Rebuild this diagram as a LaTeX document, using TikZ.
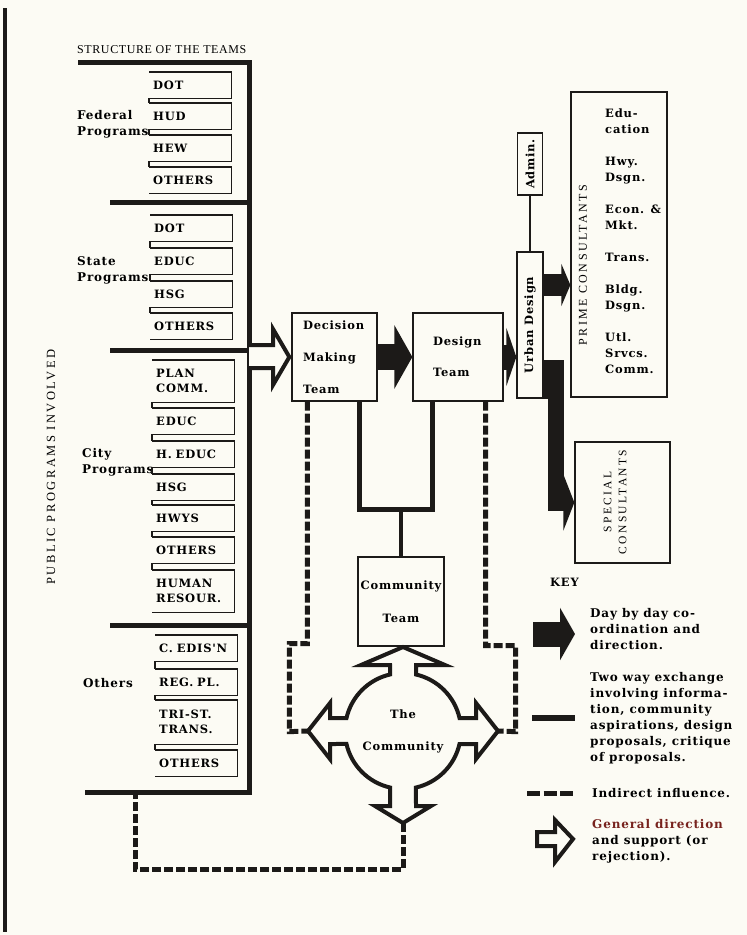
\documentclass[tikz,border=0pt]{standalone}
\usepackage{fontspec}
\usepackage{graphicx}
\usepackage{xcolor}
\setmainfont{Liberation Serif}
\newfontfamily\typfont{DejaVu Serif}[LetterSpace=7]
\newfontfamily\capfont{Liberation Serif}[LetterSpace=20]
\newfontfamily\hdfont{Liberation Serif}[LetterSpace=5]
\usepackage{tikz}
\usetikzlibrary{calc, arrows.meta, positioning}

\definecolor{paper}{RGB}{252,251,244}
\definecolor{ink}{RGB}{28,26,24}
\definecolor{genred}{RGB}{120,35,30}

\tikzset{
    prog/.style={anchor=west, minimum width=81pt, minimum height=26pt, inner xsep=4pt, inner ysep=0pt,
        text width=74pt, align=left, font=\typfont\bfseries\fontsize{11.5}{15}\selectfont},
    progline/.style={line width=1.4pt, ink},
    bar/.style={line width=5pt, ink},
    box/.style={draw=ink, line width=1.3pt, inner sep=0pt, font=\typfont\bfseries\fontsize{11.5}{14}\selectfont},
    team/.style={draw=ink, line width=1.3pt, inner ysep=0pt, font=\typfont\bfseries\fontsize{11.5}{32}\selectfont},
    lbl/.style={anchor=west, align=left, inner sep=0pt, font=\typfont\bfseries\fontsize{12}{16}\selectfont},
    twoway/.style={line width=4.5pt, ink},
    indirect/.style={line width=5pt, ink, dash pattern=on 9pt off 3pt},
    fat/.style={ink},
    hollow/.style={line width=4pt, ink, line join=miter, fill=paper},
}

\begin{document}
\begin{tikzpicture}[x=1pt, y=-1pt]
    % Nền
    \fill[paper] (0,0) rectangle (747,935);
    \useasboundingbox (0,0) rectangle (747,935);
    \draw[line width=4pt, ink] (5,8) -- (5,932);

    % Tiêu đề
    \node[anchor=west, inner sep=0pt, font=\hdfont\fontsize{12}{14}\selectfont] (title) at (77,50) {STRUCTURE OF THE TEAMS};
    \node[rotate=90, inner sep=0pt, font=\capfont\fontsize{12.5}{14}\selectfont] (publbl) at (51,467) {PUBLIC PROGRAMS INVOLVED};

    % Thanh dọc chính
    \draw[bar] (78,62) -| (249,792) -- (85,792);
    \foreach \y in {202,350,625}
        \draw[bar] (110,\y) -- (249,\y);

    % Chương trình liên bang
    \node[lbl] (fedlbl) at (77,124) {Federal\\Programs};
    \foreach \n/\t/\y in {fdot/DOT/85, fhud/HUD/116, fhew/HEW/148, foth/OTHERS/180} {
        \node[prog] (\n) at (149,\y) {\t};
        \draw[progline] (\n.north west) -- (\n.north east) -- (\n.south east) -- (\n.south west);
    }
    \foreach \a/\b in {fdot/fhud, fhud/fhew, fhew/foth}
        \draw[progline] (\a.south west) -- (\b.north west);

    % Chương trình tiểu bang
    \node[lbl] (statelbl) at (77,270) {State\\Programs};
    \foreach \n/\t/\y in {sdot/DOT/228, sedu/EDUC/261, shsg/HSG/294, soth/OTHERS/326} {
        \node[prog] (\n) at (150,\y) {\t};
        \draw[progline] (\n.north west) -- (\n.north east) -- (\n.south east) -- (\n.south west);
    }
    \foreach \a/\b in {sdot/sedu, sedu/shsg, shsg/soth}
        \draw[progline] (\a.south west) -- (\b.north west);

    % Chương trình thành phố
    \node[lbl] (citylbl) at (82,462) {City\\Programs};
    \foreach \n/\t/\y/\h in {cpln/{PLAN\\COMM.}/381/42, cedu/EDUC/421/26, ched/{H. EDUC}/454/26,
            chsg/HSG/487/26, chwy/HWYS/518/26, coth/OTHERS/550/26, chum/{HUMAN\\RESOUR.}/591/42} {
        \node[prog, minimum height=\h pt] (\n) at (152,\y) {\t};
        \draw[progline] (\n.north west) -- (\n.north east) -- (\n.south east) -- (\n.south west);
    }
    \foreach \a/\b in {cpln/cedu, cedu/ched, ched/chsg, chsg/chwy, chwy/coth, coth/chum}
        \draw[progline] (\a.south west) -- (\b.north west);

    % Các chương trình khác
    \node[lbl] (othlbl) at (83,683) {Others};
    \foreach \n/\t/\y/\h in {ocon/{C. EDIS'N}/648/26, oreg/{REG. PL.}/682/26,
            otri/{TRI-ST.\\TRANS.}/722/44, ooth/OTHERS/763/26} {
        \node[prog, minimum height=\h pt] (\n) at (155,\y) {\t};
        \draw[progline] (\n.north west) -- (\n.north east) -- (\n.south east) -- (\n.south west);
    }
    \foreach \a/\b in {ocon/oreg, oreg/otri, otri/ooth}
        \draw[progline] (\a.south west) -- (\b.north west);

    % Các nhóm
    \node[team, minimum width=85pt, minimum height=88pt, inner xsep=11pt, text width=63pt, align=left] (dec) at (334.5,357) {Decision\\Making\\Team};
    \node[team, minimum width=90pt, minimum height=88pt, inner xsep=20pt, text width=50pt, align=left,
        font=\typfont\bfseries\fontsize{11.5}{31}\selectfont] (des) at (458,357) {Design\\Team};
    \node[team, minimum width=86pt, minimum height=89pt, inner xsep=0pt, align=center,
        font=\typfont\bfseries\fontsize{11.5}{33}\selectfont] (comm) at (401,601.5) {Community\\Team};
    \node[box, minimum width=25pt, minimum height=62pt] (adm) at (530,164) {\rotatebox{90}{Admin.}};
    \node[box, minimum width=26pt, minimum height=146pt] (urb) at (530,325) {\rotatebox{90}{Urban Design}};

    % Chuyên gia tư vấn
    \node[box, minimum width=96pt, minimum height=305pt] (prime) at (619,244.5) {};
    \node[rotate=90, inner sep=0pt, font=\capfont\fontsize{12}{14}\selectfont] (primettl) at (583,265) {PRIME CONSULTANTS};
    \node[lbl, font=\typfont\bfseries\fontsize{11.5}{16}\selectfont] (primelist) at (605,241) {Edu-\\cation\\[16pt]Hwy.\\Dsgn.\\[16pt]Econ. \&\\Mkt.\\[16pt]Trans.\\[16pt]Bldg.\\Dsgn.\\[16pt]Utl.\\Srvcs.\\Comm.};
    \node[box, minimum width=95pt, minimum height=121pt] (spec) at (622.5,502.5) {};
    \node[rotate=90, align=center, inner sep=0pt, font=\capfont\fontsize{11.5}{15}\selectfont] (specttl) at (615,502) {SPECIAL\\CONSULTANTS};

    % Mũi tên rỗng vào nhóm quyết định
    \draw[hollow] (249,345) -- (273,345) -- (273,329) -- ([xshift=-2pt]dec.west) -- (273,385) -- (273,368) -- (249,368);

    % Mũi tên đậm
    \draw[fat, line width=26pt, -{Triangle[length=18pt, width=63pt]}] (dec.east) -- (des.west);
    \draw[fat, line width=25pt, -{Triangle[length=10pt, width=58pt]}] (des.east) -- (des.east -| urb.west);
    \coordinate (urbout) at ([yshift=40pt]urb.east);
    \draw[fat, line width=22pt, -{Triangle[length=9pt, width=42pt]}] (urbout) -- (urbout -| prime.west);
    \coordinate (urbdown) at ([xshift=12pt, yshift=-35pt]urb.east);
    \fill[ink] ([yshift=-35pt]urb.east) rectangle ([xshift=5pt]urb.south east);
    \draw[fat, line width=16pt, -{Triangle[length=11pt, width=56pt]}] (urbdown) |- (spec.west);
    \draw[line width=1.2pt, ink] (adm.south) -- (urb.north);

    % Trao đổi hai chiều
    \coordinate (jn) at ($(comm.north)+(0,-47)$);
    \draw[twoway] ([xshift=-18pt]dec.south east) |- (jn) -| ([xshift=20pt]des.south west);
    \draw[twoway] (jn) -- (comm.north);

    % Cộng đồng
    \node[font=\typfont\bfseries\fontsize{11.5}{32}\selectfont, align=center, inner sep=0pt] (cmty) at (403,731) {The\\Community};
    \begin{scope}[shift={(cmty.center)}]
        \draw[line width=4pt, ink, line join=miter]
            (13,-56.5) arc[start angle=-77.05, end angle=-12.95, radius=58]
            -- (73,-13) -- (73,-28) -- (95,0) -- (73,28) -- (73,13) -- (56.5,13)
            arc[start angle=12.95, end angle=77.05, radius=58]
            -- (13,75) -- (28,75) -- (0,92) -- (-28,75) -- (-13,75) -- (-13,56.5)
            arc[start angle=102.95, end angle=167.05, radius=58]
            -- (-73,13) -- (-73,28) -- (-95,0) -- (-73,-28) -- (-73,-13) -- (-56.5,-13)
            arc[start angle=192.95, end angle=257.05, radius=58]
            -- (-13,-66) -- (-42,-66) -- (0,-84) -- (42,-66) -- (13,-66) -- cycle;
        \coordinate (cm-l) at (-95,0);
        \coordinate (cm-r) at (95,0);
        \coordinate (cm-b) at (0,92);
    \end{scope}

    % Ảnh hưởng gián tiếp
    \coordinate (barfoot) at (135,794.5);
    \draw[indirect] ([xshift=16pt]dec.south west) -- ++(0,242) -| ++(-18,88) -- (cm-l);
    \draw[indirect] ([xshift=-18pt]des.south east) -- ++(0,244) -| ++(30,86) -- (cm-r);
    \draw[indirect] (cm-b) -- ++(0,46) -| (barfoot);

    % Chú giải
    \node[anchor=west, inner sep=0pt, font=\typfont\bfseries\fontsize{11.5}{14}\selectfont] (keyttl) at (550,582) {KEY};
    \coordinate (k1a) at (533,634);
    \coordinate (k1b) at (575,634);
    \draw[fat, line width=25pt, -{Triangle[length=15pt, width=52pt]}] (k1a) -- (k1b);
    \node[lbl] (keyday) at (590,629) {Day by day co-\\ordination and\\direction.};
    \coordinate (k2a) at (532,718);
    \coordinate (k2b) at (575,718);
    \draw[twoway, line width=6pt] (k2a) -- (k2b);
    \node[lbl] (keytwo) at (590,718) {Two way exchange\\involving informa-\\tion, community\\aspirations, design\\proposals, critique\\of proposals.};
    \coordinate (k3a) at (527,793);
    \coordinate (k3b) at (573,793);
    \draw[indirect, dash pattern=on 13pt off 3.5pt] (k3a) -- (k3b);
    \node[lbl] (keyind) at (592,793) {Indirect influence.};
    \draw[hollow] (537,832) -- (555,832) -- (555,820) -- (573,839) -- (555,862) -- (555,846) -- (537,846) -- cycle;
    \node[lbl] (keygen) at (592,841) {\textcolor{genred}{General direction}\\and support (or\\rejection).};
\end{tikzpicture}
\end{document}
